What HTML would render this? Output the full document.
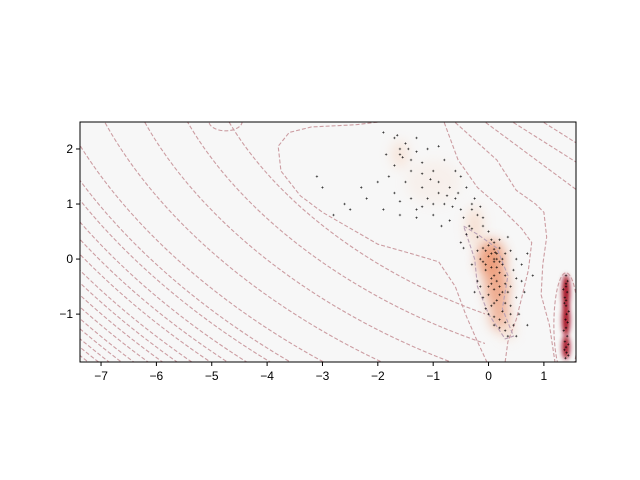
<!DOCTYPE html>
<html><head><meta charset="utf-8"><style>
html,body{margin:0;background:#fff;font-family:"Liberation Sans",sans-serif;overflow:hidden;width:640px;height:480px}
svg{display:block}
</style></head><body>
<svg id="c" width="640" height="480" xmlns="http://www.w3.org/2000/svg">
<defs>
<clipPath id="clip"><rect x="80" y="122" width="496" height="240"/></clipPath>
<clipPath id="clipL"><rect x="80" y="122" width="405" height="240"/></clipPath>
<filter id="blur" x="-80%" y="-80%" width="260%" height="260%"><feGaussianBlur stdDeviation="6"/></filter>
<filter id="blur2" x="-80%" y="-80%" width="260%" height="260%"><feGaussianBlur stdDeviation="2.5"/></filter>
</defs>
<rect x="80" y="122" width="496" height="240" fill="#f7f7f7"/>
<g id="dens" clip-path="url(#clip)"></g>
<g id="contL" clip-path="url(#clipL)" fill="none" stroke="#cc9da2" stroke-width="1.1" stroke-dasharray="4,2"></g>
<g id="cont" clip-path="url(#clip)" fill="none" stroke="#cc9da2" stroke-width="1.1" stroke-dasharray="4,2"></g>
<g id="pts" clip-path="url(#clip)" stroke="#000" stroke-width="0.5"></g>
<rect x="80" y="122" width="496" height="240" fill="none" stroke="#000" stroke-width="1"/>
<g id="axes" font-size="12" fill="#000"></g>
</svg>
<script>
const xTicks=[-7,-6,-5,-4,-3,-2,-1,0,1];
const yTicks=[2,1,0,-1];
const yTickLabels=["2","1","0","\u22121"];
const xTickLabels=["\u22127","\u22126","\u22125","\u22124","\u22123","\u22122","\u22121","0","1"];
// density blobs
const blobX=[-1.6,-1.0,-0.25,0.05,0.15,0.2,0.35,1.4,1.4,1.4];
const blobY=[1.9,1.4,0.6,0.0,-0.5,-1.0,-1.3,-0.6,-1.1,-1.6];
const blobSX=[0.15,0.5,0.15,0.25,0.22,0.18,0.12,0.07,0.07,0.07];
const blobSY=[0.25,0.4,0.35,0.35,0.35,0.3,0.15,0.32,0.3,0.22];
const blobI=[0.35,0.1,0.45,0.75,0.65,0.55,0.5,0.95,0.95,0.9];
// contour levels (scaled radius units)
const contLevels=[236,264,293,320,346,362,372,384,394,403,413,421,429,437,445,452,459,465,471];
// hand-traced contours, in data coords
const innermostC=[[-1.9,2.5],[-2.4,2.44],[-3.2,2.4],[-3.6,2.3],[-3.8,2.05],[-3.75,1.6],[-3.4,1.15],[-3.0,0.85],[-2.0,0.27],[-1.4,0.1],[-0.9,-0.05],[-0.6,-0.5],[-0.4,-1.04],[-0.2,-1.5],[-0.03,-1.87]];
const rightC1=[[-0.6,2.48],[0.15,1.8],[0.5,1.25],[0.85,1.0],[1.0,0.85],[1.05,0.4],[0.98,-0.1],[0.95,-0.65],[1.1,-1.2],[1.2,-1.87]];
const rightC2=[[-0.05,2.48],[1.6,1.25]];
const rightC3=[[0.45,2.48],[1.6,1.75]];
const rightC4=[[1.0,2.48],[1.6,2.1]];
const innerC=[[-0.8,2.48],[-0.55,1.8],[-0.2,1.3],[0.2,0.95],[0.6,0.55],[0.78,0.3],[0.72,-0.2],[0.6,-0.7],[0.5,-1.1],[0.35,-1.5],[0.3,-1.87]];
const bandC=[[-0.45,0.6],[-0.2,0.45],[0.15,0.2],[0.35,-0.3],[0.25,-0.9],[0.45,-1.4],[0.3,-1.45],[0.0,-1.0],[-0.2,-0.5],[-0.25,0.0],[-0.45,0.6]];
const pointsStr="-1.9,2.3 -1.7,2.2 -1.5,2.1 -1.6,2.0 -1.55,1.85 -1.4,1.8 -1.7,1.7 -1.3,2.2 -1.1,2.0 -0.9,2.05 -1.2,1.75 -0.8,1.8 -0.6,1.6 -1.0,1.6 -1.8,1.5 -2.0,1.4 -1.5,1.4 -1.2,1.3 -0.9,1.4 -0.7,1.3 -0.5,1.5 -0.4,1.3 -1.7,1.2 -1.4,1.1 -1.1,1.1 -0.8,1.0 -0.6,1.1 -2.2,1.1 -2.5,0.9 -1.9,0.9 -1.6,0.8 -1.3,0.9 -1.0,0.8 -0.7,0.7 -0.5,0.9 -3.1,1.5 -3.0,1.3 -2.6,1.0 -2.8,0.8 -0.3,1.0 -0.2,0.8 -0.35,0.6 -0.1,0.6 0.0,0.5 -0.2,0.4 0.1,0.3 -0.1,0.2 0.2,0.2 0.05,0.1 -0.15,0.0 0.15,0.0 0.3,0.1 0.25,-0.1 -0.05,-0.2 0.1,-0.3 0.3,-0.3 0.45,-0.2 -0.2,-0.4 0.0,-0.5 0.2,-0.5 0.4,-0.5 0.6,-0.4 -0.1,-0.7 0.1,-0.8 0.3,-0.8 0.5,-0.7 0.0,-1.0 0.2,-1.1 0.4,-1.0 0.1,-1.2 0.3,-1.3 0.5,-1.4 0.7,-1.2 0.6,-0.1 0.7,0.1 -0.3,-0.1 -0.45,0.2 0.05,0.35 0.35,0.4 0.2,-0.65 -0.25,-0.6 0.15,-0.15 0.0,0.05 0.1,-0.05 0.12,0.12 -0.05,-0.1 0.35,-0.6 0.05,-0.85 0.25,-0.95 -0.3,0.9 -0.5,0.3 -1.65,2.25 -1.45,2.0 -1.6,1.9 -1.3,1.95 -1.85,1.9 -1.2,1.55 -1.4,1.6 -0.9,1.2 -1.05,1.45 -1.6,1.05 -1.3,0.75 -0.75,1.15 -0.55,1.2 -0.65,0.95 -0.45,0.75 -0.25,1.1 -0.15,0.95 -0.4,0.45 -0.2,0.15 0.0,0.25 0.2,0.35 0.25,0.0 0.4,0.15 -0.1,-0.05 0.05,-0.35 0.2,-0.25 -0.15,-0.5 0.1,-0.55 0.3,-0.45 0.5,-0.35 0.0,-0.65 0.15,-0.75 0.4,-0.85 -0.05,-0.9 0.1,-1.05 0.3,-1.15 0.2,-1.25 0.35,-1.4 0.45,-1.2 0.55,-1.0 0.65,-0.6 0.8,-0.3 0.5,0.0 -0.3,0.55 -0.1,0.75 0.1,0.0 0.05,-0.15 0.15,0.1 -0.05,0.15 0.2,-0.05 0.1,0.18 0.15,-0.4 0.05,-0.45 0.25,-0.6 -2.3,1.3 -1.0,1.0 -0.85,0.6 -1.2,0.95 1.4,-0.3 1.4,-0.45 1.42,-0.6 1.38,-0.7 1.4,-0.85 1.41,-1.0 1.39,-1.1 1.4,-1.25 1.42,-1.4 1.38,-1.5 1.4,-1.6 1.41,-1.7 1.39,-1.8 1.35,-0.55 1.45,-0.95 1.36,-1.3 1.44,-1.55 1.43,-0.4 1.37,-0.8 1.43,-1.15 1.37,-1.65 1.44,-1.75 1.4,-0.5 1.4,-0.75";
const points=pointsStr.split(" ").map(s=>s.split(",").map(Number));
const X0=-7.38,X1=1.58,Y0=-1.87,Y1=2.49,L=80,R=576,T=122,B=362;
const sx=v=>L+(v-X0)/(X1-X0)*(R-L);
const sy=v=>B-(v-Y0)/(Y1-Y0)*(B-T);
const NS="http://www.w3.org/2000/svg";
function mk(t,a,p){const e=document.createElementNS(NS,t);for(const k in a)e.setAttribute(k,a[k]);p.appendChild(e);return e;}
const kx=(R-L)/(X1-X0),ky=(B-T)/(Y1-Y0);
const dens=document.getElementById('dens');
blobX.forEach((x,i)=>{
  const v=blobI[i];
  const col=v>0.8?"#a50f24":v>0.5?"#eb8a60":"#f7c9ad";
  const e=mk('ellipse',{cx:sx(x),cy:sy(blobY[i]),rx:blobSX[i]*kx,ry:blobSY[i]*ky,fill:col,opacity:Math.min(1,v+0.05),filter:v>0.8?"url(#blur2)":"url(#blur)"},dens);
  
  
});
const contL=document.getElementById('contL');
const cx=560,cy=90;
contLevels.forEach(s=>{
  const e=mk('ellipse',{cx:cx,cy:cy,rx:s*1.6,ry:s,transform:`rotate(20 ${cx} ${cy})`},contL);
  
  
});
const cont=document.getElementById('cont');
[innermostC,rightC1,rightC2,rightC3,rightC4,innerC].forEach(c=>{
  const e=mk('path',{d:"M"+c.map(p=>sx(p[0])+","+sy(p[1])).join("L")},cont);
  
  
});
const e1=mk('path',{d:"M"+bandC.map(p=>sx(p[0])+","+sy(p[1])).join("L"),stroke:"#b9a0b5"},cont);


[[1.4,-1.2,0.22,0.95],[-4.75,2.5,0.3,0.17]].forEach(d=>{
  const e=mk('ellipse',{cx:sx(d[0]),cy:sy(d[1]),rx:d[2]*kx,ry:d[3]*ky},cont);
  
  
});
const pts=document.getElementById('pts');
points.forEach(p=>{
  const x=sx(p[0]),y=sy(p[1]);
  const e=mk('path',{d:`M${x-1.2},${y}h2.4M${x},${y-1.2}v2.4`},pts);
  
  
});
const ax=document.getElementById('axes');
xTicks.forEach((t,i)=>{
  const x=sx(t);
  mk('line',{x1:x,y1:B,x2:x,y2:B+4,stroke:"#000"},ax);
  const tx=mk('text',{x:x,y:B+18,"text-anchor":"middle"},ax);tx.textContent=xTickLabels[i];
  
  
});
yTicks.forEach((t,i)=>{
  const y=sy(t);
  mk('line',{x1:L,y1:y,x2:L-4,y2:y,stroke:"#000"},ax);
  const tx=mk('text',{x:L-7,y:y+4,"text-anchor":"end"},ax);tx.textContent=yTickLabels[i];
  
  
});
</script>
</body></html>
